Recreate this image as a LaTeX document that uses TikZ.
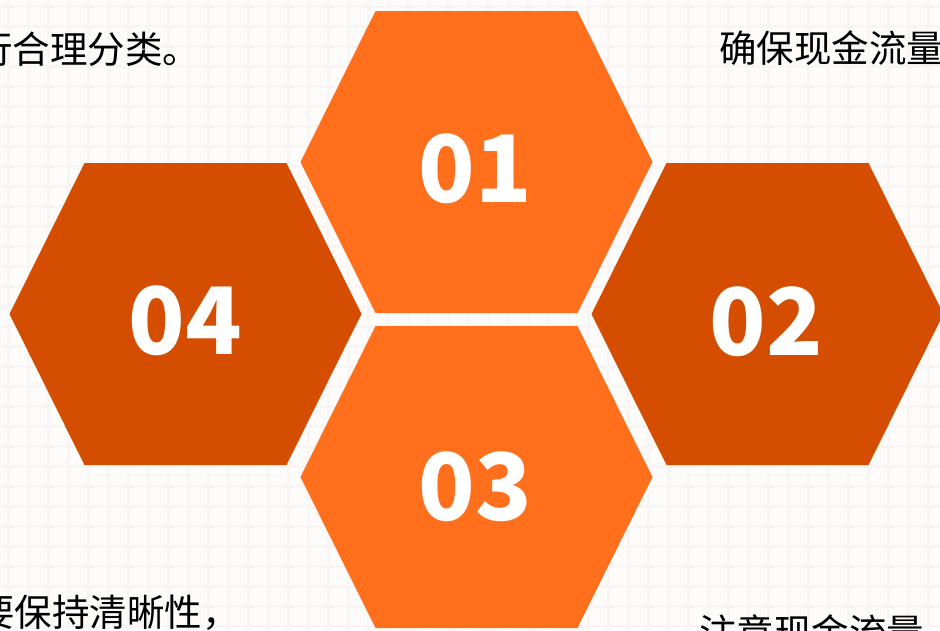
\documentclass[tikz,border=0pt]{standalone}
\usepackage{fontspec}
\newfontfamily\cjk{Noto Sans CJK SC}
\definecolor{hexlight}{HTML}{FF6F1C}
\definecolor{hexdark}{HTML}{D44D00}
\definecolor{bgcol}{HTML}{FEFCFB}
\definecolor{gridcol}{HTML}{F9F5F4}
\tikzset{
  hexfill/.style={fill=#1, draw=none},
  numtext/.style={text=white, inner sep=0pt, anchor=base, font=\cjk\bfseries\fontsize{93}{93}\selectfont},
  labtext/.style={text=black, inner sep=0pt, anchor=base west, font=\cjk\fontsize{37.5}{37.5}\selectfont}
}
\newcommand{\hexpath}[2]{(#1-176,#2) -- (#1-101,#2-151) -- (#1+101,#2-151) -- (#1+176,#2) -- (#1+101,#2+151) -- (#1-101,#2+151) -- cycle}
\begin{document}
\begin{tikzpicture}[x=1pt,y=-1pt]
\useasboundingbox (0,0) rectangle (940,630);
\clip (0,0) rectangle (940,630);
\fill[bgcol] (0,0) rectangle (940,630);
\foreach \gx in {8,28,...,940} {\draw[gridcol, line width=3pt] (\gx,0) -- (\gx,630);}
\foreach \gy in {6,26,...,630} {\draw[gridcol, line width=3pt] (0,\gy) -- (940,\gy);}
% hexagons
\fill[hexfill=hexlight] \hexpath{476.5}{162};
\fill[hexfill=hexdark] \hexpath{185.5}{314};
\fill[hexfill=hexdark] \hexpath{767.5}{314};
\fill[hexfill=hexlight] \hexpath{476.5}{477};
% numbers
\node[numtext] (n01) at (475,202) {01};
\node[numtext] (n04) at (185,354) {04};
\node[numtext] (n02) at (766,355) {02};
\node[numtext] (n03) at (475,520) {03};
% labels
\node[labtext] (t1) at (-25,63) {行合理分类。};
\node[labtext] (t2) at (719,62) {确保现金流量};
\node[labtext] (t3) at (-23,626) {要保持清晰性，};
\node[labtext] (t4) at (699,646) {注意现金流量};
\end{tikzpicture}
\end{document}
